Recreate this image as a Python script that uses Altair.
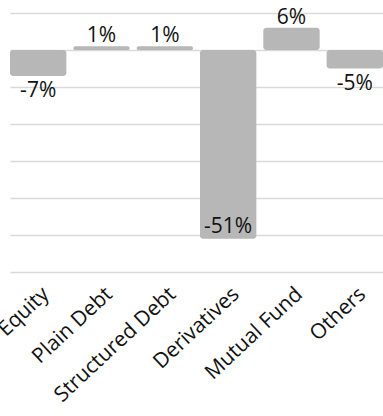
import altair as alt
import pandas as pd

categories = ["Equity", "Plain Debt", "Structured Debt", "Derivatives", "Mutual Fund", "Others"]
values = [-7, 1, 1, -51, 6, -5]
grid_values = [10, 0, -10, -20, -30, -40, -50, -60]

df = pd.DataFrame({"category": categories, "value": values})
df["label"] = [f"{v}%" for v in values]

FONT = "Open Sans"
x = alt.X("category:N", sort=categories, title=None,
          scale=alt.Scale(paddingInner=0.11, paddingOuter=0),
          axis=alt.Axis(labelAngle=-43, labelAlign="right", labelBaseline="middle",
                        labelFont=FONT, labelFontSize=21, labelColor="#111111",
                        labelPadding=19, labelOffset=8, ticks=False, domain=False, grid=False,
                        labelOverlap=False, labelBound=False, labelFlush=False))
y = alt.Y("value:Q", title=None,
          scale=alt.Scale(domain=[-60, 10], nice=False, zero=False),
          axis=alt.Axis(values=grid_values, labels=False, ticks=False, domain=False,
                        grid=True, gridColor="#d9d9d9", gridWidth=1.3))

base = alt.Chart(df)
bars = base.mark_bar(color="#b7b7b7", cornerRadius=3).encode(x=x, y=y, y2=alt.datum(0))

txt = dict(font=FONT, fontSize=21, color="#111111")
pos = base.transform_filter("datum.value >= 0").mark_text(baseline="alphabetic", dy=-4, **txt).encode(
    x=x, y=y, text="label:N")
neg = base.transform_filter("datum.value < 0 && datum.value > -40").mark_text(baseline="top", dy=4, **txt).encode(
    x=x, y=y, text="label:N")
inner = base.transform_filter("datum.value <= -40").mark_text(baseline="alphabetic", dy=-6, **txt).encode(
    x=x, y=y, text="label:N")

chart = alt.layer(bars, pos, neg, inner).properties(
    width=373, height=259,
    background="white",
    autosize=alt.AutoSizeParams(type="none"),
    padding={"left": 10, "top": 13, "right": 0, "bottom": 144},
).configure_view(stroke=None, strokeWidth=0)

chart.save("out.html", embed_options={"renderer": "svg", "actions": False})
